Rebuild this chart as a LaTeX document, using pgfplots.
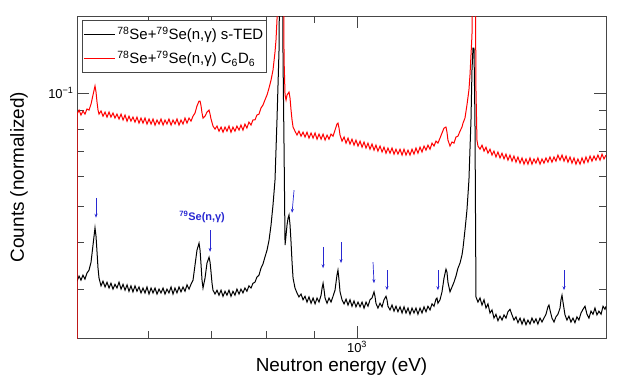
\documentclass[border=0pt]{standalone}
\usepackage{pgfplots}
\pgfplotsset{compat=1.18}
\usepackage{fontspec}
\setmainfont{Liberation Sans}
\usetikzlibrary{arrows.meta}
\definecolor{arrowblue}{RGB}{40,40,210}
\definecolor{framegray}{RGB}{70,70,70}
\begin{document}
\begin{tikzpicture}
\useasboundingbox (0,0) rectangle (620bp,376bp);
\begin{axis}[
  at={(77bp,38bp)}, anchor=south west,
  width=529bp, height=322bp, scale only axis,
  xmode=log, ymode=log,
  xmin=503.3, xmax=1841.6, ymin=0.02231, ymax=0.1603,
  xtick={1000}, xticklabels={{10\textsuperscript{3}}},
  minor xtick={600,700,800,900},
  ytick={0.1}, yticklabels={{10\textsuperscript{−1}}},
  minor ytick={0.03,0.04,0.05,0.06,0.07,0.08,0.09},
  tick pos=both, tick align=inside,
  major tick length=12bp, minor tick length=7bp,
  axis line style={framegray, line width=0.6bp},
  every tick/.style={framegray, line width=0.6bp},
  ticklabel style={font=\fontsize{13}{15}\selectfont},
  xlabel={Neutron energy (eV)},
  ylabel={Counts (normalized)},
  label style={font=\fontsize{19}{22}\selectfont},
  xlabel style={at={(axis description cs:0.5,-0.103)}, anchor=base},
  ylabel style={at={(axis description cs:-0.1096,0.5)}, anchor=center, rotate=0},
  legend style={at={(axis description cs:0.0095,0.9876)}, anchor=north west,
    draw=framegray, line width=0.6bp, fill=white,
    font=\fontsize{15}{17}\selectfont, inner xsep=1bp, inner ysep=5bp,
    row sep=6bp, cells={anchor=west}},
  legend image code/.code={\draw[#1, line width=1bp] (0bp,0bp) -- (31bp,0bp);},
  clip mode=individual,
]
\addplot[black, line width=1bp] table[x index=0, y index=1] {
503.3 0.0316
505.8 0.0326
508.2 0.0318
510.7 0.0328
513.2 0.0320
515.7 0.0332
518.3 0.0338
520.9 0.0355
523.4 0.0394
526.0 0.0438
527.3 0.0416
528.6 0.0378
529.9 0.0342
531.2 0.0322
533.8 0.0307
536.4 0.0316
539.1 0.0305
541.7 0.0314
544.4 0.0303
547.0 0.0312
549.7 0.0301
552.4 0.0310
555.1 0.0303
557.9 0.0314
560.7 0.0301
563.4 0.0310
566.2 0.0299
569.0 0.0309
571.7 0.0297
574.5 0.0307
577.3 0.0296
580.2 0.0307
583.0 0.0297
585.9 0.0305
588.8 0.0294
591.7 0.0303
594.6 0.0294
597.5 0.0305
600.5 0.0292
603.5 0.0303
606.4 0.0294
609.4 0.0303
612.4 0.0292
615.4 0.0301
618.4 0.0294
621.5 0.0303
624.5 0.0292
627.5 0.0301
630.6 0.0294
633.8 0.0305
636.9 0.0292
640.0 0.0303
643.1 0.0294
646.3 0.0305
649.5 0.0296
652.7 0.0305
655.9 0.0297
659.1 0.0309
662.4 0.0301
665.6 0.0310
668.9 0.0318
672.2 0.0349
675.4 0.0382
678.8 0.0399
680.5 0.0382
682.2 0.0349
683.8 0.0318
685.5 0.0303
688.9 0.0322
692.2 0.0353
695.7 0.0366
697.4 0.0355
699.1 0.0334
700.8 0.0312
702.5 0.0299
706.0 0.0292
709.4 0.0299
712.9 0.0290
716.5 0.0299
720.0 0.0288
723.5 0.0297
727.0 0.0290
730.6 0.0299
734.2 0.0288
737.8 0.0297
741.4 0.0290
745.0 0.0301
748.8 0.0292
752.4 0.0301
756.1 0.0294
759.8 0.0303
763.5 0.0297
767.3 0.0307
771.1 0.0303
774.9 0.0312
778.7 0.0314
782.5 0.0324
786.4 0.0328
790.2 0.0342
794.1 0.0351
798.0 0.0366
801.9 0.0382
805.9 0.0406
809.9 0.0446
813.8 0.0504
817.8 0.0587
821.8 0.0848
825.9 0.1301
828.0 0.3
832.1 0.3
834.1 0.1224
836.2 0.0705
838.2 0.0394
840.3 0.0419
842.3 0.0446
844.4 0.0465
846.4 0.0474
848.5 0.0446
850.6 0.0401
852.7 0.0355
854.8 0.0322
858.9 0.0303
863.1 0.0294
867.3 0.0287
871.7 0.0292
876.0 0.0282
880.3 0.0288
884.6 0.0278
888.9 0.0287
893.4 0.0276
897.8 0.0285
902.2 0.0275
906.6 0.0285
911.0 0.0278
915.6 0.0290
917.9 0.0303
920.1 0.0312
922.4 0.0299
924.6 0.0285
929.1 0.0276
933.6 0.0285
938.2 0.0278
942.8 0.0288
947.4 0.0299
952.0 0.0328
954.3 0.0338
956.8 0.0318
959.2 0.0296
963.9 0.0282
968.7 0.0275
973.4 0.0283
978.1 0.0273
982.9 0.0282
987.7 0.0271
992.6 0.0280
997.4 0.0270
1002.4 0.0278
1007.4 0.0270
1012.4 0.0278
1017.3 0.0268
1022.3 0.0278
1027.2 0.0271
1032.3 0.0282
1037.4 0.0285
1042.5 0.0296
1045.0 0.0288
1047.5 0.0276
1052.6 0.0268
1058.0 0.0276
1063.2 0.0270
1068.4 0.0282
1073.6 0.0288
1076.2 0.0282
1078.8 0.0271
1084.2 0.0265
1089.5 0.0273
1094.9 0.0263
1100.2 0.0271
1105.5 0.0262
1111.2 0.0270
1116.7 0.0260
1122.1 0.0270
1127.6 0.0260
1133.1 0.0268
1138.7 0.0258
1144.3 0.0268
1149.9 0.0260
1155.5 0.0268
1161.1 0.0258
1167.0 0.0268
1172.7 0.0260
1178.5 0.0270
1184.2 0.0262
1189.9 0.0271
1195.9 0.0265
1201.8 0.0275
1207.7 0.0271
1213.5 0.0283
1216.5 0.0285
1219.4 0.0276
1225.6 0.0282
1231.6 0.0296
1237.7 0.0322
1243.7 0.0340
1246.7 0.0334
1249.7 0.0314
1256.0 0.0296
1262.2 0.0305
1268.3 0.0314
1274.5 0.0326
1280.7 0.0342
1287.2 0.0353
1293.5 0.0371
1296.7 0.0387
1303.0 0.0432
1309.3 0.0488
1315.7 0.0587
1322.3 0.0848
1325.6 0.1151
1328.8 0.1317
1332.1 0.1317
1335.3 0.0848
1338.6 0.0287
1345.1 0.0278
1352.0 0.0285
1358.6 0.0273
1365.3 0.0282
1371.9 0.0268
1378.6 0.0275
1385.5 0.0260
1392.3 0.0265
1399.1 0.0252
1405.9 0.0258
1412.7 0.0248
1419.9 0.0255
1426.9 0.0249
1433.9 0.0257
1440.8 0.0252
1447.8 0.0262
1455.1 0.0266
1462.3 0.0257
1469.4 0.0249
1476.6 0.0254
1483.7 0.0245
1491.3 0.0252
1498.6 0.0243
1505.9 0.0251
1513.3 0.0242
1520.6 0.0249
1528.2 0.0243
1535.7 0.0252
1543.2 0.0245
1550.7 0.0251
1558.2 0.0243
1566.2 0.0252
1573.9 0.0246
1581.6 0.0252
1589.3 0.0258
1597.0 0.0270
1600.9 0.0273
1605.0 0.0265
1612.9 0.0252
1620.8 0.0246
1628.7 0.0254
1636.6 0.0258
1645.0 0.0268
1649.0 0.0282
1653.1 0.0290
1657.1 0.0278
1665.2 0.0257
1673.3 0.0249
1681.4 0.0255
1689.8 0.0246
1698.1 0.0252
1706.4 0.0245
1714.7 0.0254
1723.0 0.0249
1731.9 0.0260
1740.4 0.0266
1748.9 0.0271
1757.4 0.0258
1765.9 0.0252
1774.9 0.0263
1783.6 0.0258
1792.3 0.0268
1801.0 0.0257
1809.7 0.0263
1819.1 0.0258
1828.0 0.0271
1836.9 0.0266
1841.6 0.0271
};
\addlegendentry{\textsuperscript{78}Se+\textsuperscript{79}Se(n,γ) s-TED}
\addplot[red, line width=1bp] table[x index=0, y index=1] {
503.3 0.0200
503.3 0.0879
505.8 0.0901
508.2 0.0874
510.7 0.0896
513.2 0.0879
515.7 0.0907
518.3 0.0901
520.9 0.0935
523.4 0.0988
526.0 0.1044
527.3 0.1006
528.6 0.0946
529.9 0.0901
531.2 0.0879
533.8 0.0896
536.4 0.0868
539.1 0.0890
541.7 0.0863
544.4 0.0890
547.0 0.0863
549.7 0.0885
552.4 0.0858
555.1 0.0879
557.9 0.0853
560.7 0.0879
563.4 0.0848
566.2 0.0874
569.0 0.0842
571.7 0.0868
574.5 0.0842
577.3 0.0863
580.2 0.0837
583.0 0.0863
585.9 0.0832
588.8 0.0858
591.7 0.0832
594.6 0.0858
597.5 0.0827
600.5 0.0853
603.5 0.0827
606.4 0.0853
609.4 0.0822
612.4 0.0848
615.4 0.0827
618.4 0.0853
621.5 0.0822
624.5 0.0848
627.5 0.0827
630.6 0.0853
633.8 0.0822
636.9 0.0848
640.0 0.0827
643.1 0.0853
646.3 0.0822
649.5 0.0848
652.7 0.0827
655.9 0.0858
659.1 0.0832
662.4 0.0858
665.6 0.0842
668.9 0.0868
672.2 0.0885
675.4 0.0924
678.8 0.0952
680.5 0.0952
682.2 0.0924
683.8 0.0885
685.5 0.0858
688.9 0.0868
692.2 0.0890
695.7 0.0901
697.4 0.0879
699.1 0.0853
702.5 0.0817
706.0 0.0802
709.4 0.0817
712.9 0.0792
716.5 0.0812
720.0 0.0787
723.5 0.0812
727.0 0.0792
730.6 0.0817
734.2 0.0787
737.8 0.0812
741.4 0.0792
745.0 0.0817
748.8 0.0797
752.4 0.0822
756.1 0.0797
759.8 0.0827
763.5 0.0807
767.3 0.0837
771.1 0.0822
774.9 0.0848
778.7 0.0848
782.5 0.0874
786.4 0.0879
790.2 0.0912
794.1 0.0929
798.0 0.0958
801.9 0.0988
805.9 0.1031
809.9 0.1083
813.8 0.1151
817.8 0.1285
819.8 0.1383
821.8 0.1564
823.9 0.3
834.1 0.3
836.2 0.1224
838.2 0.0988
840.3 0.0958
842.3 0.0988
846.4 0.1006
848.5 0.0970
850.6 0.0901
852.7 0.0848
854.8 0.0812
858.9 0.0792
863.1 0.0773
867.3 0.0792
871.7 0.0768
876.0 0.0787
880.3 0.0764
884.6 0.0787
888.9 0.0759
893.4 0.0783
897.8 0.0759
902.2 0.0783
906.6 0.0754
911.0 0.0778
915.6 0.0754
920.1 0.0778
924.6 0.0750
929.1 0.0773
933.6 0.0754
938.2 0.0778
942.8 0.0768
947.4 0.0797
952.0 0.0827
954.3 0.0832
956.8 0.0807
959.2 0.0773
963.9 0.0745
968.7 0.0764
973.4 0.0736
978.1 0.0759
982.9 0.0732
987.7 0.0754
992.6 0.0727
997.4 0.0750
1002.4 0.0723
1007.4 0.0745
1012.4 0.0718
1017.3 0.0741
1022.3 0.0714
1027.2 0.0736
1032.3 0.0709
1037.4 0.0732
1042.5 0.0705
1047.5 0.0727
1052.6 0.0701
1058.0 0.0723
1063.2 0.0697
1068.4 0.0718
1073.6 0.0692
1078.8 0.0714
1084.2 0.0692
1089.5 0.0714
1094.9 0.0688
1100.2 0.0709
1105.5 0.0688
1111.2 0.0709
1116.7 0.0684
1122.1 0.0709
1127.6 0.0684
1133.1 0.0705
1138.7 0.0684
1144.3 0.0709
1149.9 0.0688
1155.5 0.0714
1161.1 0.0692
1167.0 0.0718
1172.7 0.0697
1178.5 0.0723
1184.2 0.0705
1189.9 0.0727
1195.9 0.0709
1201.8 0.0736
1207.7 0.0723
1213.5 0.0745
1219.4 0.0736
1225.6 0.0759
1231.6 0.0783
1237.7 0.0807
1243.7 0.0812
1246.7 0.0787
1249.7 0.0750
1256.0 0.0723
1262.2 0.0741
1268.3 0.0736
1274.5 0.0764
1280.7 0.0768
1287.2 0.0792
1293.5 0.0812
1296.7 0.0832
1303.0 0.0858
1309.3 0.0929
1315.7 0.1019
1319.1 0.1117
1322.3 0.1262
1325.6 0.1427
1328.8 0.3
1335.3 0.3
1338.6 0.1019
1341.8 0.0750
1345.1 0.0723
1352.0 0.0709
1358.6 0.0727
1365.3 0.0701
1371.9 0.0718
1378.6 0.0692
1385.5 0.0709
1392.3 0.0684
1399.1 0.0701
1405.9 0.0676
1412.7 0.0697
1419.9 0.0672
1426.9 0.0692
1433.9 0.0668
1440.8 0.0688
1447.8 0.0663
1455.1 0.0684
1462.3 0.0659
1469.4 0.0680
1476.6 0.0655
1483.7 0.0676
1491.3 0.0651
1498.6 0.0672
1505.9 0.0647
1513.3 0.0668
1520.6 0.0647
1528.2 0.0672
1535.7 0.0647
1543.2 0.0668
1550.7 0.0651
1558.2 0.0672
1566.2 0.0647
1573.9 0.0668
1581.6 0.0651
1589.3 0.0672
1597.0 0.0655
1605.0 0.0676
1612.9 0.0655
1620.8 0.0676
1628.7 0.0659
1636.6 0.0684
1645.0 0.0663
1653.1 0.0684
1661.2 0.0659
1669.3 0.0680
1677.4 0.0655
1685.7 0.0676
1694.0 0.0651
1702.3 0.0672
1710.6 0.0647
1718.9 0.0668
1727.7 0.0647
1736.2 0.0672
1744.7 0.0651
1753.2 0.0676
1761.7 0.0655
1770.5 0.0680
1779.2 0.0659
1787.9 0.0680
1796.6 0.0663
1805.3 0.0684
1814.6 0.0663
1823.5 0.0688
1832.4 0.0668
1841.6 0.0684
};
\addlegendentry{\textsuperscript{78}Se+\textsuperscript{79}Se(n,γ) C\textsubscript{6}D\textsubscript{6}}
\begin{scope}[arrowblue, line width=0.7bp, -{Stealth[length=4bp,width=3bp]}]
\draw (axis cs:527.3,0.0526) -- (axis cs:527.3,0.0466);
\draw (axis cs:697.4,0.0432) -- (axis cs:697.4,0.0378);
\draw (axis cs:856.9,0.0552) -- (axis cs:852.7,0.0480);
\draw (axis cs:920.1,0.0390) -- (axis cs:920.1,0.0342);
\draw (axis cs:961.5,0.0401) -- (axis cs:961.5,0.0353);
\draw (axis cs:1040.0,0.0355) -- (axis cs:1042.5,0.0312);
\draw (axis cs:1076.2,0.0338) -- (axis cs:1076.2,0.0299);
\draw (axis cs:1219.4,0.0338) -- (axis cs:1219.4,0.0299);
\draw (axis cs:1661.2,0.0338) -- (axis cs:1661.2,0.0299);
\end{scope}
\node[text=arrowblue, font=\bfseries\fontsize{11}{13}\selectfont] at (axis cs:684,0.0468) {\textsuperscript{79}Se(n,γ)};
\end{axis}
\end{tikzpicture}
\end{document}
